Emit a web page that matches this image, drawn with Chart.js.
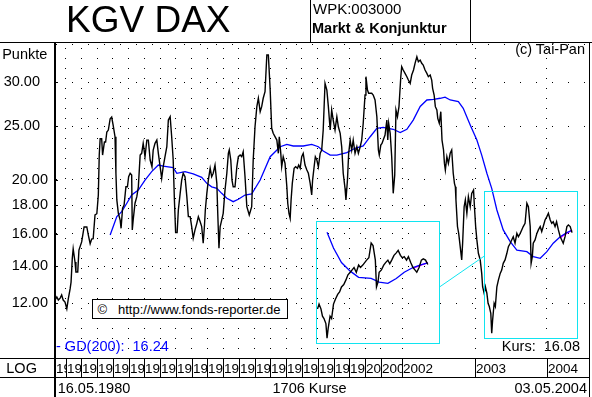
<!DOCTYPE html>
<html>
<head>
<meta charset="utf-8">
<script src="https://cdn.jsdelivr.net/npm/chart.js@4.4.1/dist/chart.umd.min.js"></script>
<style>
  html, body { margin: 0; padding: 0; background: #fff; }
  #wrap { position: relative; width: 592px; height: 397px; overflow: hidden; background: #fff; }
  canvas { position: absolute; }
  .t { position: absolute; white-space: pre; font-family: "Liberation Sans", Arial, sans-serif; line-height: 1; color: #000; }
</style>
</head>
<body>
<div id="wrap">
  <canvas id="main" width="592" height="397" style="left:0;top:0"></canvas>
  <canvas id="inset" width="124" height="123" style="left:316px;top:221px"></canvas>
  <div class="t" style="left:66px;top:1px;font-size:37px">KGV DAX</div>
  <div class="t" style="left:313px;top:1.3px;font-size:15px">WPK:003000</div>
  <div class="t" style="left:312px;top:21px;font-size:14.5px;font-weight:bold">Markt &amp; Konjunktur</div>
  <div class="t" style="right:7px;top:42px;font-size:14.5px">(c) Tai-Pan</div>
  <div class="t" style="left:2.2px;top:46.7px;font-size:14.5px">Punkte</div>
  <div class="t" style="left:6.3px;top:361px;font-size:14.5px">LOG</div>
  <div class="t" style="left:57.7px;top:381px;font-size:14.5px">16.05.1980</div>
  <div class="t" style="left:272.5px;top:381px;font-size:14.5px">1706 Kurse</div>
  <div class="t" style="right:5px;top:381px;font-size:14.5px">03.05.2004</div>
  <div class="t" style="left:56px;top:339.4px;font-size:14.5px;color:#0000ff">- GD(200):  16.24</div>
  <div class="t" style="right:12px;top:339.4px;font-size:14.5px">Kurs:  16.08</div>
  <div style="position:absolute;left:92px;top:299px;width:194px;height:18px;border:1px solid #000;background:#fff">
    <div class="t" style="left:4.5px;top:3px;font-size:13px">©</div>
    <div class="t" style="left:25px;top:3px;font-size:13px">http://www.fonds-reporter.de</div>
  </div>
</div>
<script>
// ---------------- data ----------------
// x = running quote index (1706 quotes, weekly until 2001, daily afterwards)
const yearLabels = ['1980','1981','1982','1983','1984','1985','1986','1987','1988','1989',
                    '1990','1991','1992','1993','1994','1995','1996','1997','1998','1999',
                    '2000','2001','2002','2003','2004'];
const yearStart = [0,35,87,139,191,243,295,347,399,451,
                   503,555,607,659,711,763,815,867,919,971,
                   1023,1075,1145,1386,1622];

const tickVals = [12,14,16,18,20,25,30,35];
const labelVals = [12,14,16,18,20,25,30];
const wideLabelVals = [25,30];   // these labels sit further left in the original

// KGV DAX (black line)
const kgvIdx = [
  0,6,11,17,22,27,33,39,44,50,
  53,57,60,66,69,75,79,88,96,105,
  110,116,121,126,132,138,143,146,149,154,
  157,163,167,171,176,182,187,192,198,201,
  204,209,215,218,223,228,234,239,243,248,
  253,255,258,264,270,275,281,286,291,297,
  303,308,314,320,324,330,336,341,347,352,
  357,363,369,374,380,385,390,394,398,403,
  407,413,418,423,429,435,440,446,451,456,
  462,468,473,479,484,489,493,496,501,506,
  512,517,522,528,534,537,541,545,550,555,
  561,567,572,575,580,584,588,594,600,605,
  611,616,621,627,633,641,649,654,660,666,
  671,677,682,687,693,699,704,710,715,720,
  732,737,740,745,748,753,759,765,768,772,
  776,779,783,789,794,800,804,809,814,819,
  825,831,836,842,847,850,855,859,864,869,
  875,880,885,891,897,902,908,913,918,924,
  930,935,941,946,951,957,960,965,969,974,
  979,984,990,996,1001,1007,1012,1017,1023,1026,
  1031,1035,1040,1045,1050,1056,1062,1067,1070,1075,
  1079,1083,1089,1095,1098,1101,1106,1111,1116,1121,
  1125,1130,1135,1141,1144,1149,1155,1161,1166,1172,
  1177,1183,1188,1194,1199,1205,1210,1215,1221,1227,
  1232,1238,1243,1246,1251,1255,1260,1263,1268,1273,
  1277,1282,1285,1288,1293,1298,1304,1309,1314,1318,
  1321,1323,1328,1332,1337,1342,1345,1350,1354,1359,
  1364,1370,1375,1381,1384,1388,1392,1397,1403,1408,
  1411,1416,1420,1425,1429,1433,1438,1441,1444,1449,
  1453,1458,1463,1469,1474,1479,1485,1491,1496,1502,
  1507,1512,1518,1524,1529,1535,1540,1545,1551,1557,
  1562,1568,1571,1575,1578,1584,1590,1595,1601,1606,
  1611,1617,1623,1628,1634,1639,1644,1650,1655,1661,
  1667,1672,1677,1683,1689,1694,1700,1706
];
const kgvVal = [
  12.16,12.32,12.16,12.26,12.42,12.16,12.06,11.73,12.23,12.75,
  13.10,14.44,15.04,14.24,13.66,13.66,14.96,15.47,16.46,16.46,
  15.92,15.36,15.66,15.68,17.30,17.39,18.79,22.17,23.72,23.72,
  22.17,23.40,23.40,24.39,24.59,25.77,25.95,25.08,23.92,20.58,
  18.41,17.42,16.94,16.37,17.79,18.03,19.44,19.44,20.27,20.56,
  20.41,16.26,16.94,18.16,18.66,19.44,22.17,22.33,23.27,22.02,
  23.59,23.59,21.72,21.12,22.64,23.27,23.59,22.33,21.12,20.13,
  21.12,22.02,22.95,25.63,25.99,23.92,21.72,18.41,16.08,16.08,
  17.66,18.92,19.99,20.56,20.27,18.66,17.18,17.18,16.49,15.71,
  16.26,16.71,17.18,16.82,16.49,15.39,16.49,17.66,18.92,19.99,
  20.99,20.27,20.56,21.27,19.72,17.42,15.07,16.49,16.94,17.42,
  19.18,20.56,22.33,22.64,21.72,19.99,19.44,19.44,21.12,22.02,
  22.17,22.02,22.48,20.27,17.90,17.30,17.90,21.72,24.93,27.09,
  28.05,26.53,27.09,28.05,28.82,33.55,33.55,29.02,24.77,24.26,
  23.59,22.33,23.92,22.33,21.12,22.02,21.42,19.44,18.16,17.42,
  17.06,18.41,19.72,20.99,21.12,20.99,21.27,20.99,22.02,22.33,
  21.27,20.84,20.56,19.72,18.79,19.99,21.12,22.02,21.72,21.12,
  22.33,22.64,24.59,29.84,29.02,27.09,24.59,26.72,25.63,24.59,
  25.99,24.93,24.26,22.95,20.56,19.31,18.41,19.99,22.33,23.59,
  22.64,23.59,22.33,22.95,22.33,22.95,23.59,25.29,28.43,30.67,
  29.02,28.63,28.63,28.63,28.43,27.85,25.99,22.64,22.17,23.11,
  23.27,23.59,24.09,25.63,23.59,25.29,24.26,22.02,18.92,20.41,
  26.72,25.99,27.09,30.67,31.96,31.53,31.10,30.67,30.25,29.84,
  30.88,31.53,32.42,33.31,32.63,32.86,32.42,32.19,31.53,31.10,
  30.67,30.88,30.25,29.23,28.43,27.09,26.72,25.81,25.29,26.53,
  23.59,22.64,21.42,20.84,22.02,21.42,22.33,22.64,20.56,19.72,
  19.44,18.41,16.49,16.03,15.17,14.36,15.39,17.90,18.41,17.42,
  18.66,17.90,18.92,19.18,17.90,16.49,15.60,14.76,14.36,13.58,
  12.85,12.51,12.85,12.51,12.00,11.84,11.51,10.60,11.20,12.00,
  11.84,12.85,13.21,13.58,13.77,14.16,14.36,14.76,15.17,15.39,
  15.60,15.81,15.39,16.03,15.81,16.03,16.26,16.49,16.71,18.16,
  17.90,16.49,14.16,14.56,15.39,15.60,16.03,16.26,16.49,16.15,
  16.49,16.94,17.18,17.42,16.94,16.71,16.82,16.49,16.82,16.26,
  15.81,15.60,15.39,15.81,16.49,16.60,16.49,16.08
];

// GD(200) moving average (blue line)
const gdIdx = [
  182,204,220,237,253,275,297,319,341,357,
  390,402,429,456,484,501,517,534,550,567,
  588,605,627,649,677,710,743,765,786,819,
  847,869,885,908,930,963,990,1017,1040,1062,
  1083,1116,1139,1161,1182,1205,1227,1249,1271,1287,
  1304,1331,1347,1370,1392,1408,1425,1441,1458,1479,
  1502,1524,1557,1578,1601,1623,1644,1667,1689,1706
];
const gdVal = [
  15.92,17.18,17.54,18.16,18.79,19.18,19.99,20.70,21.27,21.18,
  21.04,20.56,20.70,20.50,20.22,19.72,19.44,19.31,18.92,18.54,
  18.28,18.46,18.79,18.87,19.99,22.02,22.95,23.18,23.02,23.02,
  23.18,22.95,22.55,22.17,22.17,22.39,22.80,23.02,23.92,24.77,
  24.87,24.67,24.33,24.67,25.63,27.11,27.85,27.93,28.05,28.17,
  27.85,27.66,26.91,25.11,23.59,22.17,20.56,19.31,17.66,16.26,
  15.49,14.96,14.86,14.56,14.46,14.86,15.39,15.81,16.08,16.24
];

// short magenta line at the end
const shortIdx = [1668,1680,1692,1706];
const shortVal = [15.75,15.92,16.08,16.25];

// zoom window shown by the cyan boxes
const zoomFrom = 1416, zoomTo = 1722, zoomHigh = 19.13, zoomLow = 10.41;
const insetGdFrom = 1441;
const connectorVal = 14.6;

// ---------------- layout / style ----------------
const FONT = '"Liberation Sans", Arial, sans-serif';
const CYAN = '#10e4f0';
const INSET = { left: 316, top: 221, width: 124, height: 123, connectorY: 287 };
const Y_MIN = 9.567, Y_MAX = 35.41, X_MAX = 1762;
const LABEL_SHIFT = '\u00A0\u00A0';

Chart.defaults.font.family = FONT;

function pts(xs, ys, from) {
  const out = [];
  xs.forEach((x, i) => { if (from === undefined || x >= from) out.push({ x: x, y: ys[i] }); });
  return out;
}

const framePlugin = {
  id: 'frame',
  afterDraw(chart) {
    const ctx = chart.ctx, xs = chart.scales.x, ys = chart.scales.y;
    ctx.save();
    ctx.fillStyle = '#000';
    ctx.fillRect(0, 42, 592, 1);
    ctx.fillRect(310, 0, 1, 42);
    ctx.fillRect(470, 0, 1, 42);
    ctx.fillRect(54, 42, 2, 355);
    ctx.fillRect(589, 42, 1, 355);
    ctx.fillRect(0, 358, 590, 1);
    ctx.fillRect(0, 377, 590, 1);
    // small tick marks on the axis
    tickVals.forEach(v => {
      if (v < 35) ctx.fillRect(56, Math.round(ys.getPixelForValue(v)), 2, 1);
    });
    // year boxes
    ctx.font = '13.5px ' + FONT;
    ctx.textBaseline = 'alphabetic';
    ctx.textAlign = 'left';
    for (let i = 0; i < yearStart.length; i++) {
      const x0 = Math.round(xs.getPixelForValue(yearStart[i]));
      const x1 = i + 1 < yearStart.length ? Math.round(xs.getPixelForValue(yearStart[i + 1])) : 589;
      if (i > 0) ctx.fillRect(x0, 358, 1, 19);
      ctx.save();
      ctx.beginPath();
      ctx.rect(x0 + 1, 359, x1 - x0 - 1, 18);
      ctx.clip();
      ctx.fillText(yearLabels[i], x0 + 1, 373);
      ctx.restore();
    }
    // zoom window
    const l = Math.round(xs.getPixelForValue(zoomFrom)) + 0.5;
    const r = Math.round(xs.getPixelForValue(zoomTo)) + 0.5;
    const t = Math.round(ys.getPixelForValue(zoomHigh)) + 0.5;
    const b = Math.round(ys.getPixelForValue(zoomLow)) + 0.5;
    ctx.strokeStyle = CYAN;
    ctx.lineWidth = 1;
    ctx.strokeRect(l, t, r - l, b - t);
    ctx.beginPath();
    ctx.moveTo(INSET.left + INSET.width - 0.5, INSET.connectorY);
    ctx.lineTo(l, ys.getPixelForValue(connectorVal));
    ctx.stroke();
    ctx.restore();
  }
};

const lineDs = (data, color, w) => ({
  data: data, borderColor: color, borderWidth: w, pointRadius: 0,
  tension: 0, fill: false
});

new Chart(document.getElementById('main'), {
  type: 'line',
  data: {
    datasets: [
      lineDs(pts(kgvIdx, kgvVal), '#000000', 1.4),
      lineDs(pts(gdIdx, gdVal), '#0000ff', 1.3),
      lineDs(pts(shortIdx, shortVal), '#ff00ff', 1.3)
    ]
  },
  options: {
    responsive: false,
    devicePixelRatio: 1,
    animation: false,
    events: [],
    layout: { padding: { left: 0, top: 42, right: 3, bottom: 39 } },
    plugins: { legend: { display: false }, tooltip: { enabled: false } },
    scales: {
      x: {
        type: 'linear', min: 0, max: X_MAX,
        afterBuildTicks: s => { s.ticks = yearStart.slice(1).map(v => ({ value: v })); },
        ticks: { display: false },
        grid: { color: '#000', lineWidth: 1, drawTicks: false },
        border: { display: false, dash: [1, 9], dashOffset: 4 },
        afterFit: s => { s.height = 0; }
      },
      y: {
        type: 'logarithmic', position: 'left', min: Y_MIN, max: Y_MAX,
        afterBuildTicks: s => { s.ticks = tickVals.map(v => ({ value: v })); },
        ticks: {
          autoSkip: false, padding: 7, color: '#000', font: { size: 14.5, family: FONT },
          callback: v => labelVals.includes(v)
            ? Number(v).toFixed(2) + (wideLabelVals.includes(v) ? LABEL_SHIFT : '')
            : ''
        },
        grid: { color: '#000', lineWidth: 1, drawTicks: false },
        border: { display: false, dash: [1, 15], dashOffset: 15 },
        afterFit: s => { s.width = 55; }
      }
    }
  },
  plugins: [framePlugin]
});

const insetPlugin = {
  id: 'insetBox',
  afterDraw(chart) {
    const ctx = chart.ctx;
    ctx.save();
    ctx.strokeStyle = CYAN;
    ctx.lineWidth = 1;
    ctx.strokeRect(0.5, 0.5, chart.width - 1, chart.height - 1);
    ctx.restore();
  }
};

new Chart(document.getElementById('inset'), {
  type: 'line',
  data: {
    datasets: [
      lineDs(pts(kgvIdx, kgvVal, zoomFrom), '#000000', 1.4),
      lineDs(pts(gdIdx, gdVal, insetGdFrom), '#0000ff', 1.3),
      lineDs(pts(shortIdx, shortVal), '#ff00ff', 1.3)
    ]
  },
  options: {
    responsive: false,
    devicePixelRatio: 1,
    animation: false,
    events: [],
    layout: { padding: 0 },
    plugins: { legend: { display: false }, tooltip: { enabled: false } },
    scales: {
      x: { type: 'linear', display: false, min: 1412, max: 1738 },
      y: { type: 'logarithmic', display: false, min: 10.25, max: 20.58 }
    }
  },
  plugins: [insetPlugin]
});
</script>
</body>
</html>
